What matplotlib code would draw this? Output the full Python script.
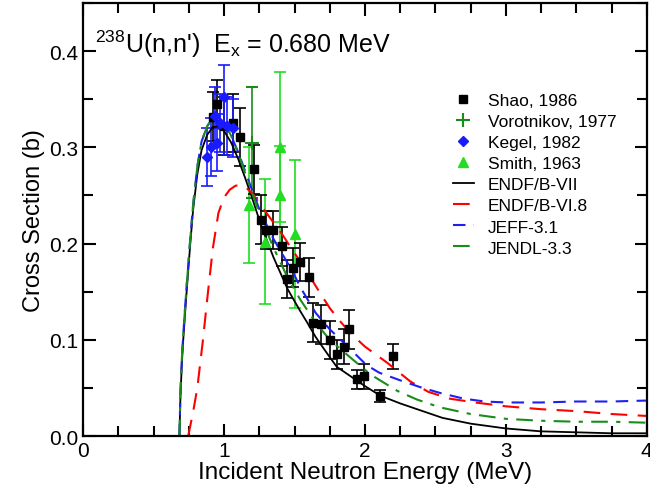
import numpy as np
import matplotlib
matplotlib.use("Agg")
import matplotlib.pyplot as plt
from matplotlib.ticker import MultipleLocator

plt.rcParams['font.family'] = ['Liberation Sans', 'DejaVu Sans']
plt.rcParams['mathtext.fontset'] = 'custom'
plt.rcParams['mathtext.rm'] = 'Liberation Sans'
plt.rcParams['mathtext.it'] = 'Liberation Sans'

# evaluated cross sections (MeV, barn)
endf7_e = [0.683, 0.69, 0.70, 0.71, 0.73, 0.76, 0.78, 0.81, 0.84, 0.88, 0.92, 0.96, 1.00, 1.05,
           1.10, 1.15, 1.20, 1.26, 1.35, 1.45, 1.54, 1.59, 1.65, 1.75, 1.80, 1.90, 2.00, 2.11,
           2.25, 2.39, 2.55, 2.75, 3.00, 3.25, 3.50, 3.75, 4.00]
endf7_xs = [0.0, 0.04, 0.075, 0.10, 0.142, 0.20, 0.235, 0.272, 0.297, 0.313, 0.321, 0.322, 0.317,
            0.305, 0.288, 0.268, 0.247, 0.220, 0.186, 0.153, 0.130, 0.118, 0.103, 0.082, 0.072,
            0.062, 0.052, 0.042, 0.034, 0.027, 0.019, 0.013, 0.008, 0.005, 0.004, 0.003, 0.003]

endf68_e = [0.745, 0.78, 0.81, 0.85, 0.88, 0.92, 0.96, 1.00, 1.04, 1.08, 1.11, 1.15, 1.20, 1.30,
            1.42, 1.49, 1.56, 1.65, 1.75, 1.82, 1.89, 2.00, 2.16, 2.32, 2.45, 2.60, 2.78, 3.00,
            3.25, 3.50, 3.75, 4.00]
endf68_xs = [0.0, 0.025, 0.05, 0.10, 0.142, 0.195, 0.232, 0.248, 0.256, 0.260, 0.261, 0.259, 0.252,
             0.232, 0.208, 0.192, 0.178, 0.156, 0.133, 0.120, 0.108, 0.093, 0.076, 0.057, 0.046,
             0.039, 0.035, 0.031, 0.028, 0.026, 0.023, 0.021]

jeff_e = [0.683, 0.69, 0.70, 0.71, 0.73, 0.76, 0.78, 0.81, 0.84, 0.88, 0.92, 0.96, 1.00, 1.05,
          1.10, 1.15, 1.20, 1.26, 1.35, 1.49, 1.54, 1.65, 1.75, 1.85, 2.01, 2.10, 2.25, 2.39,
          2.53, 2.70, 2.85, 3.00, 3.25, 3.50, 3.75, 4.00]
jeff_xs = [0.0, 0.045, 0.08, 0.105, 0.148, 0.205, 0.24, 0.28, 0.306, 0.322, 0.330, 0.331, 0.325,
           0.312, 0.295, 0.275, 0.255, 0.232, 0.205, 0.170, 0.155, 0.128, 0.111, 0.097, 0.074,
           0.066, 0.058, 0.051, 0.045, 0.039, 0.036, 0.035, 0.035, 0.036, 0.036, 0.037]

jendl_e = [0.683, 0.69, 0.70, 0.71, 0.73, 0.76, 0.78, 0.81, 0.84, 0.88, 0.92, 0.96, 1.00, 1.05,
           1.10, 1.15, 1.20, 1.26, 1.35, 1.45, 1.54, 1.65, 1.75, 1.91, 2.04, 2.23, 2.37, 2.53,
           2.75, 3.00, 3.25, 3.50, 3.75, 4.00]
jendl_xs = [0.0, 0.045, 0.08, 0.105, 0.148, 0.205, 0.24, 0.28, 0.306, 0.322, 0.331, 0.332, 0.326,
            0.312, 0.294, 0.273, 0.252, 0.228, 0.196, 0.165, 0.142, 0.118, 0.100, 0.080, 0.064,
            0.047, 0.038, 0.030, 0.023, 0.018, 0.016, 0.015, 0.015, 0.014]

# measurements
shao_e = [0.92, 0.95, 1.00, 1.06, 1.11, 1.21, 1.26, 1.30, 1.35, 1.41, 1.45, 1.49, 1.54, 1.60,
          1.63, 1.69, 1.75, 1.80, 1.85, 1.89, 1.94, 1.99, 2.11, 2.20]
shao_xs = [0.332, 0.345, 0.322, 0.325, 0.311, 0.277, 0.225, 0.214, 0.214, 0.197, 0.163, 0.175,
           0.181, 0.165, 0.118, 0.116, 0.100, 0.085, 0.093, 0.111, 0.059, 0.062, 0.042, 0.083]
shao_err = [0.025, 0.025, 0.03, 0.03, 0.03, 0.025, 0.025, 0.02, 0.02, 0.02, 0.02, 0.02, 0.02,
            0.02, 0.02, 0.02, 0.02, 0.015, 0.018, 0.02, 0.01, 0.013, 0.006, 0.013]

vorot_e = [1.20]
vorot_xs = [0.305]
vorot_err = [0.058]

kegel_e = [0.88, 0.91, 0.935, 0.95, 0.97, 1.00, 1.02, 1.06]
kegel_xs = [0.29, 0.30, 0.333, 0.305, 0.325, 0.352, 0.322, 0.320]
kegel_err = [0.03, 0.03, 0.03, 0.03, 0.03, 0.033, 0.03, 0.03]

smith_e = [1.18, 1.29, 1.40, 1.40, 1.50]
smith_xs = [0.240, 0.202, 0.300, 0.251, 0.210]
smith_err = [0.06, 0.065, 0.078, 0.05, 0.077]

fig = plt.figure(figsize=(6.5, 4.89), dpi=100)
ax = fig.add_axes([0.128, 0.106, 0.867, 0.886])

eb = dict(linestyle='none', capsize=4, elinewidth=1.2, capthick=1.2)
ax.errorbar(smith_e, smith_xs, yerr=smith_err, marker='^', ms=7, color='#22dd22',
            label='Smith, 1963', **eb)
ax.errorbar(vorot_e, vorot_xs, yerr=vorot_err, marker='+', ms=10, mew=1.5, color='#1a8c1a',
            label='Vorotnikov, 1977', **eb)
ax.errorbar(shao_e, shao_xs, yerr=shao_err, marker='s', ms=6, color='black',
            label='Shao, 1986', **eb)
ax.errorbar(kegel_e, kegel_xs, yerr=kegel_err, marker='D', ms=5, color='#1a1aff',
            label='Kegel, 1982', **eb)

ax.plot(endf7_e, endf7_xs, color='black', lw=1.3, label='ENDF/B-VII')
ax.plot(endf68_e, endf68_xs, color='red', lw=1.5, dashes=(8, 5), label='ENDF/B-VI.8')
ax.plot(jeff_e, jeff_xs, color='#2020ee', lw=1.5, dashes=(6, 4), label='JEFF-3.1')
ax.plot(jendl_e, jendl_xs, color='#1a8c1a', lw=1.5, dashes=(8, 4, 2, 4), label='JENDL-3.3')

ax.set_xlim(0, 4)
ax.set_ylim(0, 0.45)
ax.xaxis.set_major_locator(MultipleLocator(1))
ax.xaxis.set_minor_locator(MultipleLocator(0.25))
ax.yaxis.set_major_locator(MultipleLocator(0.1))
ax.yaxis.set_minor_locator(MultipleLocator(0.05))
ax.yaxis.set_major_formatter(plt.FormatStrFormatter('%.1f'))
ax.tick_params(which='both', direction='in', top=True, right=True, width=1.5, labelsize=15)
ax.tick_params(which='major', length=9)
ax.tick_params(which='minor', length=7)
for sp in ax.spines.values():
    sp.set_linewidth(1.6)

ax.set_xlabel('Incident Neutron Energy (MeV)', fontsize=17.5, labelpad=1)
ax.set_ylabel('Cross Section (b)', fontsize=17, labelpad=3)

ax.text(0.021, 0.887, "$^{238}$U(n,n')  E$_x$ = 0.680 MeV", transform=ax.transAxes,
        fontsize=18, ha='left', va='baseline')

handles, labels = ax.get_legend_handles_labels()
order = ['Shao, 1986', 'Vorotnikov, 1977', 'Kegel, 1982', 'Smith, 1963',
         'ENDF/B-VII', 'ENDF/B-VI.8', 'JEFF-3.1', 'JENDL-3.3']
hmap = dict(zip(labels, handles))
leg_handles = []
for name in order:
    h = hmap[name]
    if hasattr(h, 'lines') and h.lines[0] is not None:
        leg_handles.append(h.lines[0])
    else:
        leg_handles.append(h)
ax.legend(leg_handles, order, loc='upper left', bbox_to_anchor=(0.656, 0.792), frameon=False,
          fontsize=12.5, handlelength=1.2, handletextpad=0.8, labelspacing=0.34, borderpad=0,
          borderaxespad=0)

fig.savefig('out.png', dpi=100)
